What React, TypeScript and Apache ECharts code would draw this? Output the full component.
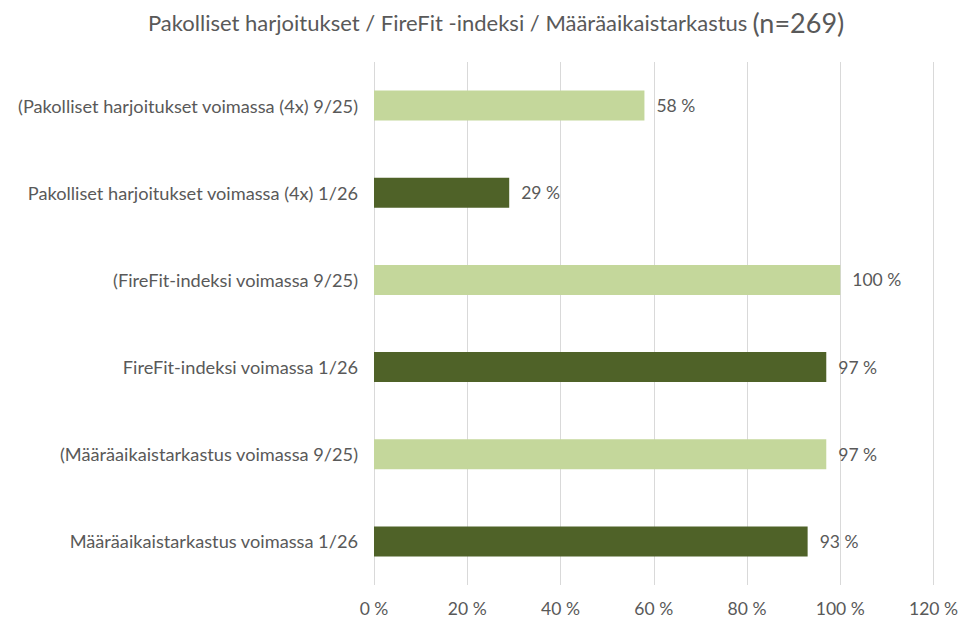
import React, { useEffect, useRef } from "react";
import * as echarts from "echarts";

const titleMain = "Pakolliset harjoitukset / FireFit -indeksi / Määräaikaistarkastus";
const titleN = "(n=269)";
const categories = [
  "(Pakolliset harjoitukset voimassa (4x) 9/25)",
  "Pakolliset harjoitukset voimassa (4x) 1/26",
  "(FireFit-indeksi voimassa 9/25)",
  "FireFit-indeksi voimassa 1/26",
  "(Määräaikaistarkastus voimassa 9/25)",
  "Määräaikaistarkastus voimassa 1/26",
];
const periods = ["9/25", "1/26", "9/25", "1/26", "9/25", "1/26"];
const values = [58, 29, 100, 97, 97, 93];
const axisMin = 0;
const axisMax = 120;
const axisStep = 20;

const periodColor: Record<string, string> = { "9/25": "#c4d79b", "1/26": "#4f6228" };
const FONT = "Lato";
const TEXT = "#595959";

export default function App() {
  const ref = useRef<HTMLDivElement>(null);
  useEffect(() => {
    if (!ref.current) return;
    const chart = echarts.init(ref.current, null, { renderer: "svg" });
    chart.setOption({
      animation: false,
      backgroundColor: "#ffffff",
      title: {
        text: `{a|${titleMain}} {b|${titleN}}`,
        left: 143,
        top: 4,
        textStyle: {
          fontWeight: "normal",
          rich: {
            a: { fontFamily: FONT, fontSize: 22, color: TEXT, fontWeight: "normal" },
            b: { fontFamily: FONT, fontSize: 27, color: TEXT, fontWeight: "normal" },
          },
        },
      },
      grid: { left: 374, right: 25, top: 62, bottom: 36, containLabel: false },
      xAxis: {
        type: "value",
        min: axisMin,
        max: axisMax,
        interval: axisStep,
        axisLine: { show: false },
        axisTick: { show: false },
        splitLine: { show: true, lineStyle: { color: "#d9d9d9", width: 1 } },
        axisLabel: {
          formatter: (v: number) => `${v} %`,
          fontFamily: FONT,
          fontSize: 17.5,
          color: TEXT,
          margin: 14,
        },
      },
      yAxis: {
        type: "category",
        data: categories,
        inverse: true,
        axisLine: { show: false },
        axisTick: { show: false },
        axisLabel: { fontFamily: FONT, fontSize: 18.2, color: TEXT, margin: 16 },
      },
      series: [
        {
          type: "bar",
          data: values.map((v, i) => ({ value: v, itemStyle: { color: periodColor[periods[i]] } })),
          barWidth: 30,
          label: {
            show: true,
            position: "right",
            distance: 12,
            formatter: (p: any) => `${p.value} %`,
            fontFamily: FONT,
            fontSize: 17.5,
            color: TEXT,
          },
        },
      ],
    });
    return () => chart.dispose();
  }, []);
  return (
    <div
      ref={ref}
      style={{ position: "absolute", left: 0, top: 0, width: 961, height: 621 }}
    />
  );
}
